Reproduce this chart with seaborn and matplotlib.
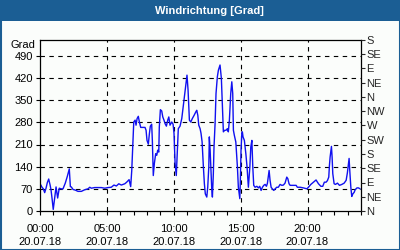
import matplotlib
matplotlib.use("Agg")
import matplotlib.pyplot as plt
from matplotlib.patches import Rectangle
import seaborn as sns
import pandas as pd

hours = [0.05, 0.15, 0.25, 0.35, 0.45, 0.55, 0.65, 0.75, 0.82, 0.90, 0.99, 1.08, 1.20, 1.32, 1.44,
         1.57, 1.72, 1.89, 2.04, 2.19, 2.27, 2.34, 2.47, 2.64, 2.84, 3.09, 3.34, 3.59, 3.72, 3.84,
         4.09, 4.34, 4.58, 4.84, 5.09, 5.33, 5.53, 5.71, 5.89, 6.08, 6.34, 6.48, 6.66, 6.78, 6.86,
         6.96, 7.01, 7.11, 7.18, 7.26, 7.35, 7.43, 7.53, 7.73, 7.85, 7.93, 8.00, 8.10, 8.18, 8.25,
         8.35, 8.40, 8.45, 8.47, 8.55, 8.65, 8.73, 8.80, 8.88, 8.92, 9.00, 9.10, 9.18, 9.27, 9.35,
         9.45, 9.55, 9.63, 9.72, 9.85, 9.95, 10.02, 10.10, 10.19, 10.27, 10.34, 10.47, 10.60, 10.72,
         10.85, 10.92, 10.99, 11.07, 11.17, 11.27, 11.39, 11.52, 11.65, 11.72, 11.80, 11.87, 11.97,
         12.04, 12.12, 12.21, 12.29, 12.36, 12.47, 12.54, 12.62, 12.66, 12.72, 12.79, 12.84, 12.89,
         12.96, 13.01, 13.09, 13.16, 13.26, 13.34, 13.46, 13.56, 13.63, 13.71, 13.81, 13.91, 14.01,
         14.08, 14.16, 14.26, 14.34, 14.41, 14.46, 14.53, 14.64, 14.76, 14.83, 14.91, 14.94, 14.98,
         15.03, 15.09, 15.13, 15.18, 15.28, 15.39, 15.48, 15.58, 15.69, 15.76, 15.84, 15.91, 15.98,
         16.08, 16.21, 16.33, 16.43, 16.53, 16.63, 16.73, 16.83, 16.93, 17.00, 17.08, 17.13, 17.20,
         17.28, 17.37, 17.48, 17.58, 17.70, 17.82, 17.95, 18.08, 18.20, 18.32, 18.45, 18.53, 18.62,
         18.70, 18.95, 19.15, 19.24, 19.45, 19.69, 19.95, 20.07, 20.25, 20.44, 20.64, 20.82, 21.00,
         21.14, 21.26, 21.39, 21.49, 21.59, 21.64, 21.69, 21.74, 21.79, 21.84, 21.89, 21.99, 22.09,
         22.24, 22.39, 22.57, 22.74, 22.89, 22.98, 23.06, 23.11, 23.16, 23.24, 23.31, 23.39, 23.49,
         23.56, 23.70, 23.81, 23.93]
degrees = [83, 75, 70, 58, 72, 90, 101, 83, 68, 40, 5, 35, 76, 41, 72,
           70, 70, 88, 109, 133, 77, 76, 68, 66, 62, 62, 67, 70, 75, 72,
           74, 74, 74, 72, 74, 75, 82, 79, 86, 82, 86, 91, 99, 77, 128,
           234, 281, 287, 271, 292, 299, 281, 264, 264, 264, 255, 223, 211, 245, 268,
           274, 223, 150, 112, 150, 181, 176, 192, 186, 265, 320, 316, 297, 287, 276,
           268, 287, 297, 271, 281, 274, 245, 150, 112, 192, 260, 268, 292, 334,
           382, 403, 429, 382, 287, 281, 292, 302, 313, 318, 302, 271, 260,
           245, 218, 144, 86, 54, 44, 75, 139, 234, 192, 123, 70, 44,
           118, 202, 276, 371, 424, 445, 461, 419, 340, 250, 255, 255, 260,
           250, 287, 371, 408, 371, 255, 239, 218, 139, 75, 49, 39, 97,
           192, 245, 250, 234, 223, 181, 139, 75, 139, 202, 223, 139, 81,
           75, 78, 73, 78, 65, 75, 81, 84, 78, 87, 112, 128, 97,
           75, 70, 65, 70, 75, 75, 84, 81, 82, 88, 107, 102, 86,
           81, 81, 81, 75, 75, 73, 70, 75, 84, 91, 98, 86, 78,
           78, 91, 91, 96, 107, 144, 170, 186, 204, 170, 118, 86, 84,
           88, 81, 84, 88, 97, 120, 150, 166, 128, 75, 46, 54, 59,
           67, 73, 73, 70]

x_ticks = [0, 5, 10, 15, 20]
x_labels = ["00:00\n20.07.18", "05:00\n20.07.18", "10:00\n20.07.18", "15:00\n20.07.18", "20:00\n20.07.18"]
y_ticks = [0, 70, 140, 210, 280, 350, 420, 490]
dir_ticks = [0, 45, 90, 135, 180, 225, 270, 315, 360, 405, 450, 495, 540]
dir_labels = ["N", "NE", "E", "SE", "S", "SW", "W", "NW", "N", "NE", "E", "SE", "S"]

sns.set_style("white")
plt.rcParams["font.family"] = ["Liberation Sans", "DejaVu Sans"]

BG = "#fbfdfb"
BLUE = "#1b5e94"
fig = plt.figure(figsize=(4, 2.5), dpi=100, facecolor=BG)
ax = fig.add_axes([40 / 400, 39 / 250, 321 / 400, 171 / 250])
ax.set_facecolor(BG)

df = pd.DataFrame({"hour": hours, "deg": degrees})
sns.lineplot(data=df, x="hour", y="deg", ax=ax, color="#1010f0", linewidth=1.0,
             sort=False, estimator=None)

ax.set_xlim(0, 24)
ax.set_ylim(0, 540)
ax.set_xlabel("")
ax.set_ylabel("")
ax.set_xticks(x_ticks)
ax.set_xticklabels(x_labels, fontsize=8, linespacing=1.45)
ax.set_xticks(range(0, 25), minor=True)
ax.set_yticks(y_ticks)
ax.set_yticklabels([str(v) for v in y_ticks], fontsize=8)
ax.tick_params(axis="both", which="both", direction="out", length=3, width=0.8,
               color="black", labelcolor="black", pad=2)
ax.tick_params(axis="x", which="major", pad=6)
ax.tick_params(axis="x", which="both", bottom=True)
ax.tick_params(axis="y", left=True)

for v in y_ticks[1:]:
    ax.axhline(v, color="black", lw=0.8, ls=(0, (4, 4)), zorder=0)
for v in x_ticks[1:]:
    ax.axvline(v, color="black", lw=0.8, ls=(0, (4, 4)), zorder=0)

for s in ax.spines.values():
    s.set_visible(True)
    s.set_color("black")
    s.set_linewidth(0.9)

ax2 = ax.twinx()
ax2.set_ylim(0, 540)
ax2.set_yticks(dir_ticks)
ax2.set_yticklabels(dir_labels, fontsize=8)
ax2.tick_params(axis="y", direction="out", length=3, width=0.8, pad=1, right=True)
for s in ax2.spines.values():
    s.set_visible(False)

ax.text(-0.015, 525, "Grad", transform=ax.get_yaxis_transform(), ha="right", va="center",
        fontsize=8, color="black")

fig.patches.append(Rectangle((0, 1 - 21 / 250), 1, 21 / 250, transform=fig.transFigure,
                             facecolor=BLUE, edgecolor="none", zorder=0))
fig.patches.append(Rectangle((0.5 / 400, 0.5 / 250), 399 / 400, 249 / 250, transform=fig.transFigure,
                             facecolor="none", edgecolor=BLUE, lw=1.5, zorder=1))
fig.text(0.524, 1 - 10.5 / 250, "Windrichtung [Grad]", color="white", fontsize=8,
         fontweight="bold", ha="center", va="center")

fig.savefig("out.png", dpi=100, facecolor=BG)
